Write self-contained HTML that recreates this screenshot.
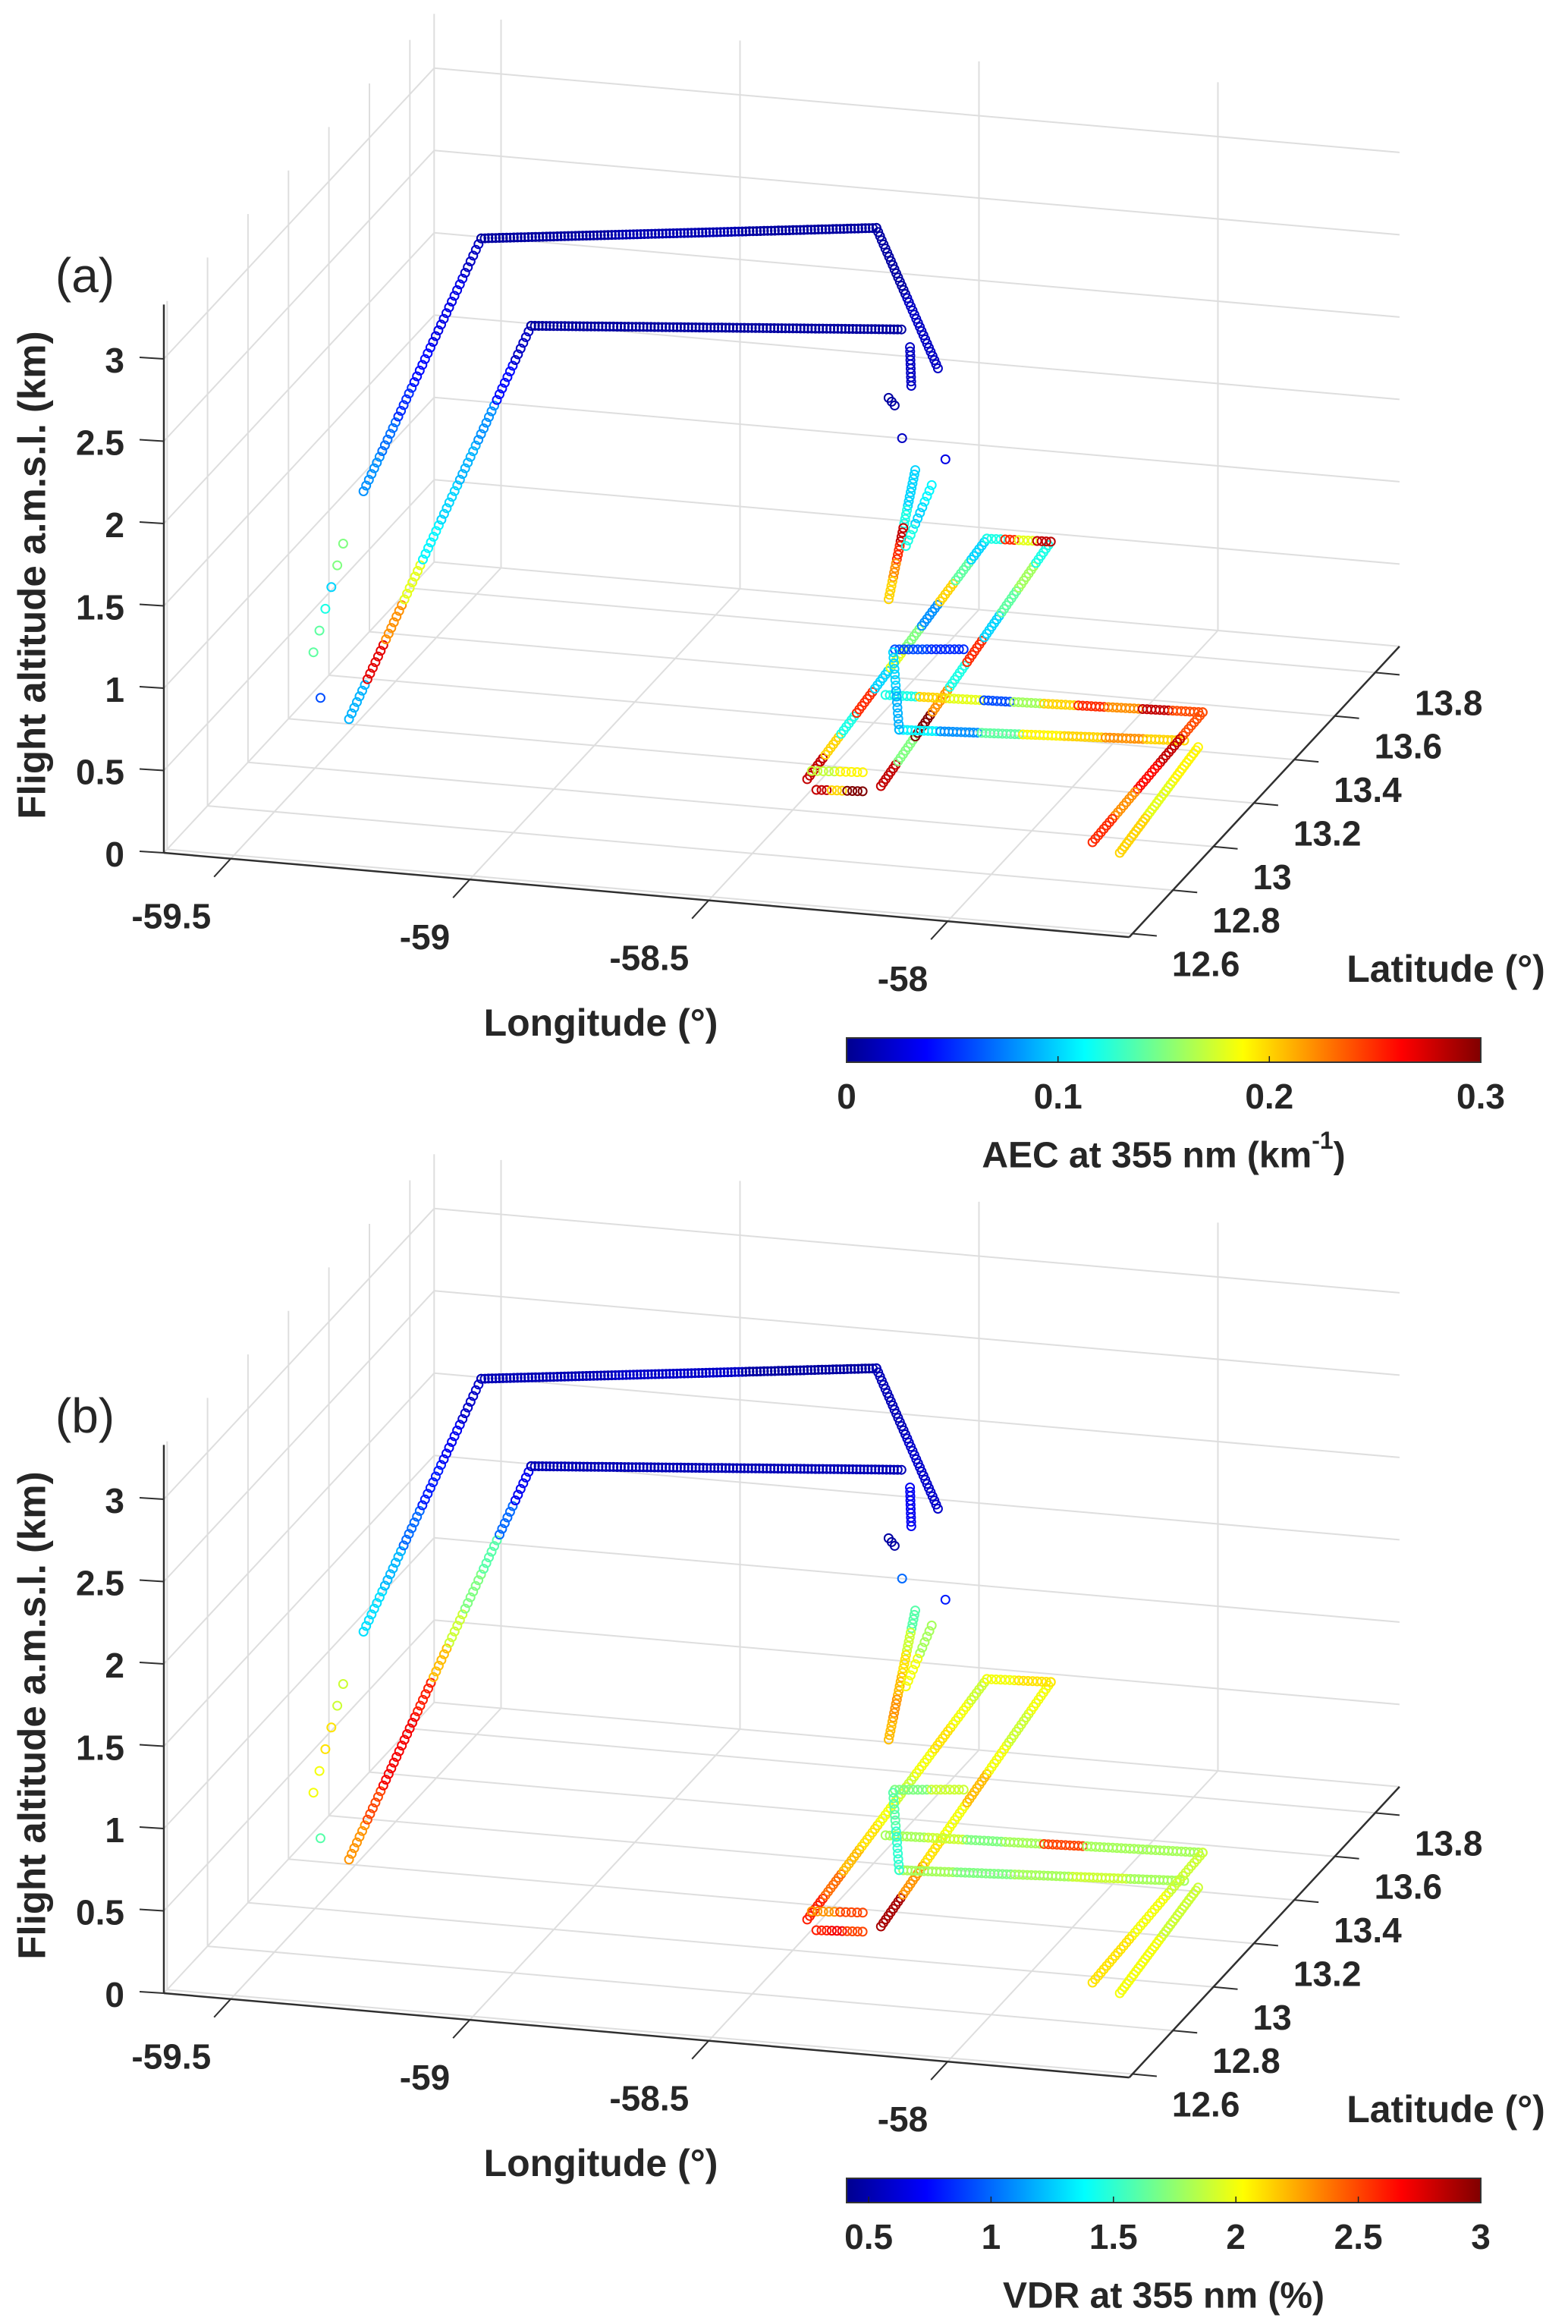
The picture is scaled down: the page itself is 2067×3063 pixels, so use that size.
<!DOCTYPE html>
<html>
<head>
<meta charset="utf-8">
<style>
  html,body{margin:0;padding:0;background:#fff;}
  svg{display:block;}
  text{font-family:"Liberation Sans",Arial,sans-serif;fill:#262626;}
</style>
</head>
<body>
<svg id="fig" width="2067" height="3063" viewBox="0 0 2067 3063" xmlns="http://www.w3.org/2000/svg">
  <defs>
    <linearGradient id="jet" x1="0" y1="0" x2="1" y2="0">
      <stop offset="0" stop-color="#00008f"/>
      <stop offset="0.125" stop-color="#0000ff"/>
      <stop offset="0.375" stop-color="#00ffff"/>
      <stop offset="0.625" stop-color="#ffff00"/>
      <stop offset="0.875" stop-color="#ff0000"/>
      <stop offset="1" stop-color="#800000"/>
    </linearGradient>
  </defs>
</svg>
<script>
// ---------- data ----------
const lonTicks = [-59.5, -59, -58.5, -58];
const latTicks = [12.6, 12.8, 13, 13.2, 13.4, 13.6, 13.8];
const altTicks = [0, 0.5, 1, 1.5, 2, 2.5, 3];
const aecTicks = [0, 0.1, 0.2, 0.3];
const vdrTicks = [0.5, 1, 1.5, 2, 2.5, 3];

// flight waypoints
const wpLon = [-59.415,-59.39,-59.356,-59.213,-58.467,-58.273,-59.300,-58.959,-58.236,-58.232,-58.234,-58.282,-58.338,-58.223,-58.282,-58.320,-58.405,-58.276,-58.165,-58.326,-58.225,-58.283,-58.191,-58.384,-58.251,-58.320,-57.675,-58.231,-57.660,-57.773,-57.621,-57.701,-58.382,-59.349,-58.276,-58.154,-58.273];
const wpLat = [12.792,12.880,12.900,13.144,13.335,13.181,12.696,12.791,12.913,12.946,12.957,13.090,13.091,13.032,13.044,12.646,13.735,13.746,12.644,12.683,12.696,12.604,12.615,13.230,13.256,13.033,13.077,12.890,12.950,12.764,12.927,12.729,13.217,12.671,13.011,12.937,12.952];
const wpAlt = [1.0,1.55,1.85,3.1,3.1,2.5,0.75,3.1,3.1,2.95,2.7,2.0,1.2,2.0,1.6,0.7,0.7,0.7,0.7,0.7,0.7,0.7,0.7,0.7,0.7,0.7,0.7,0.7,0.7,0.3,0.7,0.3,0.7,0.9,2.3,2.3,2.6];

// flight legs: start waypoint, end waypoint, number of samples
const legFrom  = [0,2,3,4,6,7,9,11,13,15,18,16,19,21,23,25,27,26,30,32,33,34,35,36];
const legTo    = [1,3,4,5,7,8,10,12,14,16,17,17,20,22,24,26,28,29,31,27,33,34,35,36];
const legCount = [6,45,110,35,70,100,10,30,12,70,70,15,10,10,16,75,70,40,35,15,1,1,1,3];

// measured values along each leg (AEC km-1)
const aecValues = [
  [0.14,0.12,0.1,0.15],
  [0.08,0.07,0.05,0.04,0.03,0.03,0.02],
  [0.01,0.015,0.01],
  [0.01,0.02],
  [0.09,0.27,0.22,0.18,0.11,0.1,0.09,0.08,0.04,0.02],
  [0.01],
  [0.02],
  [0.1,0.1,0.12,0.28,0.25,0.22,0.2],
  [0.11,0.1,0.12],
  [0.28,0.2,0.12,0.25,0.1,0.18,0.15,0.08,0.2,0.14,0.1],
  [0.28,0.15,0.3,0.22,0.12,0.25,0.1,0.14,0.16,0.12],
  [0.12,0.25,0.18,0.28],
  [0.17,0.19],
  [0.28,0.2,0.3],
  [0.06,0.05],
  [0.12,0.2,0.18,0.06,0.16,0.2,0.25,0.22,0.28,0.24],
  [0.11,0.08,0.14,0.19,0.2,0.22,0.2],
  [0.24,0.28,0.26,0.22,0.25],
  [0.19,0.18,0.2],
  [0.1,0.09],
  [0.06],[0.02],[0.03],[0.01]
];
// measured values along each leg (VDR %)
const vdrValues = [
  [2.0,2.1,1.9],
  [1.3,1.2,1.0,0.8,0.7,0.6],
  [0.55,0.6,0.5],
  [0.55,0.6],
  [2.3,2.5,2.7,2.7,2.6,2.2,1.9,1.7,1.6,1.0,0.7],
  [0.55],
  [0.7],
  [1.6,1.9,2.1,2.2,2.3,2.2],
  [1.8,2.0],
  [2.6,2.4,2.2,2.1,2.0,1.9,2.0,2.1,2.0,1.9],
  [2.9,2.3,2.1,2.0,2.2,2.0,1.9,2.0],
  [2.0,2.1],
  [2.3,2.5],
  [2.6,2.7,2.5],
  [1.7,1.9],
  [1.8,1.9,1.7,1.8,2.5,1.8,1.8,1.8],
  [1.8,1.7,1.8,1.9,1.8],
  [1.9,2.0,2.1],
  [1.9,2.0],
  [1.6,1.5],
  [1.6],[1.0],[0.8],[0.5]
];

// ---------- axes geometry ----------
const LON0=-59.64, LON1=-57.62, LAT0=12.584, LAT1=13.92, Z1=3.33;
const OX=216, OY=1124;
function proj(lon,lat,z,oy){
  const a=lon-LON0, b=lat-LAT0;
  return [OX+a*630+b*266.7, OY+oy+a*55-b*286.8-z*217];
}
function jet(t){
  t=Math.max(0,Math.min(1,t));
  const c=v=>Math.round(255*Math.max(0,Math.min(1,v)));
  return `rgb(${c(1.5-Math.abs(4*t-3))},${c(1.5-Math.abs(4*t-2))},${c(1.5-Math.abs(4*t-1))})`;
}
const NS="http://www.w3.org/2000/svg";
const svg=document.getElementById('fig');
function mk(tag,attrs,parent){
  const e=document.createElementNS(NS,tag);
  for(const k in attrs) e.setAttribute(k,attrs[k]);
  (parent||svg).appendChild(e);
  return e;
}
function line(p,q,stroke,w,parent){
  return mk('line',{x1:p[0].toFixed(1),y1:p[1].toFixed(1),x2:q[0].toFixed(1),y2:q[1].toFixed(1),stroke:stroke,'stroke-width':w},parent);
}
function txt(x,y,s,size,anchor,weight,parent){
  const t=mk('text',{x:x.toFixed(1),y:y.toFixed(1),'font-size':size,'text-anchor':anchor,'dominant-baseline':'central','font-weight':weight},parent);
  t.textContent=s;
  return t;
}

function drawPanel(oy, letter, values, cmin, cmax, cTicks, cTitle, cSup, pname){
  const g=mk('g',{});
  
  
  const grid=mk('g',{},g);
  
  
  const GC='#dedede';
  // floor
  lonTicks.forEach(l=>line(proj(l,LAT0,0,oy),proj(l,LAT1,0,oy),GC,2,grid));
  latTicks.forEach(l=>line(proj(LON0,l,0,oy),proj(LON1,l,0,oy),GC,2,grid));
  // back wall
  lonTicks.forEach(l=>line(proj(l,LAT1,0,oy),proj(l,LAT1,Z1,oy),GC,2,grid));
  altTicks.forEach(z=>line(proj(LON0,LAT1,z,oy),proj(LON1,LAT1,z,oy),GC,2,grid));
  line(proj(LON0,LAT1,0,oy),proj(LON0,LAT1,Z1,oy),GC,2,grid);
  // left wall
  latTicks.forEach(l=>line(proj(LON0,l,0,oy),proj(LON0,l,Z1,oy),GC,2,grid));
  altTicks.forEach(z=>line(proj(LON0,LAT0,z,oy),proj(LON0,LAT1,z,oy),GC,2,grid));

  // axes
  const ax=mk('g',{},g);
  
  
  const AC='#303030';
  line(proj(LON0,LAT0,0,oy),proj(LON1,LAT0,0,oy),AC,2.5,ax);
  line(proj(LON1,LAT0,0,oy),proj(LON1,LAT1,0,oy),AC,2.5,ax);
  line(proj(LON0,LAT0,0,oy),proj(LON0,LAT0,Z1,oy),AC,2.5,ax);
  lonTicks.forEach(l=>{
    const p=proj(l,LAT0,0,oy);
    line(p,[p[0]-22,p[1]+24],AC,2,ax);
    const t=txt(p[0]-26,p[1]+76,String(l),46,'end','bold',ax);
    
    
  });
  latTicks.forEach(l=>{
    const p=proj(LON1,l,0,oy);
    line(p,[p[0]+32,p[1]+3],AC,2,ax);
    const t=txt(p[0]+52,p[1]+40,String(l),46,'start','bold',ax);
    
    
  });
  altTicks.forEach(z=>{
    const p=proj(LON0,LAT0,z,oy);
    line(p,[p[0]-32,p[1]-2],AC,2,ax);
    const t=txt(p[0]-52,p[1]+2,String(z),46,'end','bold',ax);
    
    
  });
  let t=txt(792,1348+oy,'Longitude (°)',50,'middle','bold',ax);
  
  
  t=txt(1906,1277+oy,'Latitude (°)',50,'middle','bold',ax);
  
  
  t=mk('text',{x:0,y:0,'font-size':51,'font-weight':'bold','text-anchor':'middle','dominant-baseline':'central',transform:`translate(42,${758+oy}) rotate(-90)`},ax);
  t.textContent='Flight altitude a.m.s.l. (km)';
  
  
  t=txt(112,363+oy,letter,64,'middle','normal',ax);
  
  

  // scatter
  const sc=mk('g',{fill:'none','stroke-width':2},g);
  
  
  for(let s=0;s<legFrom.length;s++){
    const i=legFrom[s], j=legTo[s], n=legCount[s], vals=values[s];
    for(let k=0;k<n;k++){
      const f=n>1?k/(n-1):0;
      const lon=wpLon[i]+(wpLon[j]-wpLon[i])*f;
      const lat=wpLat[i]+(wpLat[j]-wpLat[i])*f;
      const z=wpAlt[i]+(wpAlt[j]-wpAlt[i])*f;
      let p=proj(lon,lat,z,oy);
      if(n===3 && i===j) p=[p[0]+(k-1)*4,p[1]+(k-1)*5];
      const v=vals[Math.min(vals.length-1,Math.floor(f*vals.length))];
      const c=mk('circle',{cx:p[0].toFixed(1),cy:p[1].toFixed(1),r:5.5,stroke:jet((v-cmin)/(cmax-cmin))},sc);
      
      
    }
  }

  // colorbar
  const cb=mk('g',{},g);
  
  
  const X0=1116, X1=1952, Y0=1368+oy, Y1=1400+oy;
  const cx=v=>X0+(v-cmin)/(cmax-cmin)*(X1-X0);
  mk('rect',{x:X0,y:Y0,width:X1-X0,height:Y1-Y0,fill:'url(#jet)',stroke:'#333','stroke-width':2},cb);
  cTicks.forEach(v=>{
    const x=cx(v);
    if(x>X0+3 && x<X1-3) line([x,Y1],[x,Y1-8],'#222',1.5,cb);
    const tl=txt(x,1445+oy,String(v),46,'middle','bold',cb);
    
    
  });
  const ct=mk('text',{x:1534,y:1523+oy,'font-size':48,'font-weight':'bold','text-anchor':'middle','dominant-baseline':'central'},cb);
  
  
  ct.appendChild(document.createTextNode(cTitle));
  if(cSup){
    const sp=mk('tspan',{'font-size':32,dy:-20},ct); sp.textContent=cSup;
    const sp2=mk('tspan',{'font-size':48,dy:20},ct); sp2.textContent=')';
  }
}

drawPanel(0,'(a)',aecValues,0,0.3,aecTicks,'AEC at 355 nm (km','-1','aec');
drawPanel(1503,'(b)',vdrValues,0.41,3,vdrTicks,'VDR at 355 nm (%)','','vdr');
</script>
</body>
</html>
